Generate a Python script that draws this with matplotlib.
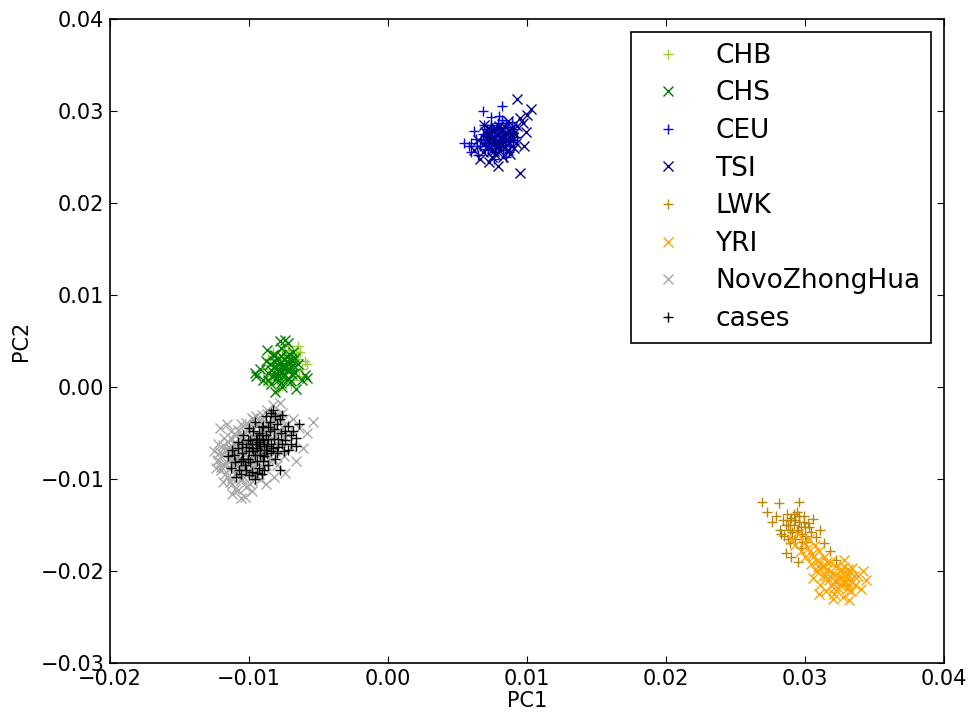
import matplotlib
matplotlib.use("Agg")
import matplotlib.pyplot as plt

# ---- data ----
chb_x = [-0.0085, -0.0082, -0.0080, -0.0078, -0.0077, -0.0075, -0.0074, -0.0073, -0.0071, -0.0070,
         -0.0069, -0.0067, -0.0066, -0.0064, -0.0063, -0.0060, -0.0058, -0.0088, -0.0086, -0.0079,
         -0.0072, -0.0076, -0.0068, -0.0083, -0.0090, -0.0065,
         -0.0081, -0.0078, -0.0074, -0.0071, -0.0068, -0.0065, -0.0062, -0.0076, -0.0070, -0.0084]
chb_y = [0.0015, 0.0025, 0.0008, 0.0030, 0.0018, 0.0035, 0.0010, 0.0024, 0.0040, 0.0015,
         0.0029, 0.0020, 0.0037, 0.0012, 0.0038, 0.0028, 0.0025, 0.0005, 0.0030, -0.0003,
         0.0045, 0.0005, 0.0008, 0.0038, 0.0020, 0.0045,
         0.0020, 0.0012, 0.0028, 0.0022, 0.0033, 0.0030, 0.0020, 0.0040, 0.0002, 0.0010]

chs_x = [-0.0095, -0.0092, -0.0090, -0.0088, -0.0086, -0.0084, -0.0083, -0.0082, -0.0080, -0.0079,
         -0.0078, -0.0077, -0.0076, -0.0075, -0.0074, -0.0073, -0.0072, -0.0071, -0.0070, -0.0069,
         -0.0068, -0.0067, -0.0066, -0.0065, -0.0062, -0.0060, -0.0058, -0.0081, -0.0087, -0.0078,
         -0.0070, -0.0076, -0.0079, -0.0073, -0.0085, -0.0096, -0.0074,
         -0.0084, -0.0082, -0.0080, -0.0079, -0.0078, -0.0077, -0.0076, -0.0075, -0.0074, -0.0073,
         -0.0072, -0.0071, -0.0070, -0.0069, -0.0068, -0.0081, -0.0086, -0.0067, -0.0077, -0.0083]
chs_y = [0.0012, 0.0020, 0.0008, 0.0028, 0.0015, 0.0003, 0.0035, 0.0022, 0.0010, 0.0030,
         0.0017, 0.0042, 0.0000, 0.0025, 0.0013, 0.0033, 0.0048, 0.0020, 0.0007, 0.0028,
         0.0038, 0.0015, -0.0002, 0.0025, 0.0008, 0.0013, 0.0010, -0.0005, 0.0040, 0.0050,
         0.0030, 0.0022, 0.0008, 0.0018, 0.0025, 0.0015, 0.0051,
         0.0018, 0.0028, 0.0020, 0.0013, 0.0026, 0.0034, 0.0016, 0.0030, 0.0022, 0.0008,
         0.0027, 0.0036, 0.0022, 0.0014, 0.0024, 0.0035, 0.0008, 0.0032, 0.0004, 0.0012]

ceu_x = [0.0060, 0.0063, 0.0066, 0.0068, 0.0070, 0.0071, 0.0072, 0.0073, 0.0074, 0.0075,
         0.0076, 0.0077, 0.0078, 0.0079, 0.0080, 0.0081, 0.0082, 0.0083, 0.0084, 0.0085,
         0.0086, 0.0087, 0.0088, 0.0090, 0.0091, 0.0058, 0.0065, 0.0069, 0.0074, 0.0080,
         0.0085, 0.0093, 0.0062, 0.0076, 0.0089, 0.0072, 0.0079, 0.0083, 0.0070, 0.0087,
         0.0055, 0.0082, 0.0068, 0.0060,
         0.0071, 0.0074, 0.0076, 0.0078, 0.0080, 0.0081, 0.0082, 0.0084, 0.0086, 0.0077,
         0.0073, 0.0079, 0.0083, 0.0088, 0.0075, 0.0067, 0.0064, 0.0090, 0.0085, 0.0078]
ceu_y = [0.0265, 0.0270, 0.0262, 0.0275, 0.0268, 0.0280, 0.0258, 0.0272, 0.0285, 0.0265,
         0.0278, 0.0270, 0.0260, 0.0283, 0.0273, 0.0266, 0.0290, 0.0277, 0.0262, 0.0271,
         0.0283, 0.0255, 0.0275, 0.0268, 0.0280, 0.0262, 0.0252, 0.0285, 0.0293, 0.0295,
         0.0250, 0.0272, 0.0278, 0.0248, 0.0288, 0.0265, 0.0276, 0.0268, 0.0259, 0.0266,
         0.0265, 0.0305, 0.0300, 0.0255,
         0.0274, 0.0278, 0.0268, 0.0274, 0.0266, 0.0282, 0.0274, 0.0278, 0.0270, 0.0262,
         0.0268, 0.0287, 0.0258, 0.0262, 0.0282, 0.0270, 0.0262, 0.0276, 0.0287, 0.0280]

tsi_x = [0.0062, 0.0065, 0.0068, 0.0070, 0.0072, 0.0074, 0.0075, 0.0077, 0.0078, 0.0079,
         0.0080, 0.0081, 0.0082, 0.0084, 0.0085, 0.0086, 0.0087, 0.0088, 0.0090, 0.0091,
         0.0093, 0.0095, 0.0097, 0.0099, 0.0098, 0.0095, 0.0093, 0.0103, 0.0100, 0.0066,
         0.0073, 0.0079, 0.0069, 0.0083, 0.0076, 0.0089, 0.0092,
         0.0071, 0.0073, 0.0075, 0.0077, 0.0079, 0.0080, 0.0082, 0.0083, 0.0085, 0.0087,
         0.0076, 0.0081, 0.0074, 0.0084, 0.0089, 0.0078, 0.0069, 0.0086, 0.0091, 0.0072]
tsi_y = [0.0258, 0.0268, 0.0255, 0.0277, 0.0262, 0.0270, 0.0250, 0.0282, 0.0266, 0.0274,
         0.0258, 0.0279, 0.0269, 0.0261, 0.0276, 0.0289, 0.0266, 0.0253, 0.0272, 0.0260,
         0.0284, 0.0292, 0.0287, 0.0277, 0.0262, 0.0233, 0.0313, 0.0302, 0.0296, 0.0248,
         0.0245, 0.0240, 0.0285, 0.0250, 0.0256, 0.0281, 0.0265,
         0.0270, 0.0276, 0.0264, 0.0271, 0.0262, 0.0284, 0.0263, 0.0274, 0.0268, 0.0279,
         0.0278, 0.0270, 0.0257, 0.0283, 0.0268, 0.0252, 0.0264, 0.0258, 0.0276, 0.0282]

lwk_x = [0.0269, 0.0281, 0.0273, 0.0296, 0.0276, 0.0279, 0.0282, 0.0284, 0.0285, 0.0287,
         0.0288, 0.0289, 0.0290, 0.0291, 0.0292, 0.0293, 0.0294, 0.0295, 0.0296, 0.0297,
         0.0298, 0.0299, 0.0300, 0.0301, 0.0302, 0.0304, 0.0306, 0.0308, 0.0311, 0.0314,
         0.0318, 0.0322, 0.0286, 0.0290, 0.0295, 0.0293, 0.0297, 0.0289, 0.0300, 0.0283,
         0.0286, 0.0289, 0.0291, 0.0294, 0.0296, 0.0298, 0.0292, 0.0303, 0.0288, 0.0299]
lwk_y = [-0.0125, -0.0126, -0.0136, -0.0125, -0.0147, -0.0140, -0.0155, -0.0145, -0.0162, -0.0138,
         -0.0150, -0.0170, -0.0142, -0.0158, -0.0150, -0.0165, -0.0136, -0.0155, -0.0147, -0.0175,
         -0.0160, -0.0140, -0.0152, -0.0168, -0.0148, -0.0158, -0.0143, -0.0163, -0.0155, -0.0170,
         -0.0178, -0.0188, -0.0180, -0.0185, -0.0190, -0.0145, -0.0152, -0.0155, -0.0162, -0.0160,
         -0.0150, -0.0145, -0.0163, -0.0158, -0.0140, -0.0168, -0.0138, -0.0152, -0.0165, -0.0147]

yri_x = [0.0290, 0.0293, 0.0295, 0.0297, 0.0299, 0.0300, 0.0302, 0.0303, 0.0304, 0.0305,
         0.0307, 0.0308, 0.0309, 0.0310, 0.0311, 0.0312, 0.0313, 0.0314, 0.0315, 0.0316,
         0.0317, 0.0318, 0.0319, 0.0320, 0.0321, 0.0322, 0.0323, 0.0324, 0.0325, 0.0326,
         0.0327, 0.0328, 0.0329, 0.0330, 0.0331, 0.0332, 0.0333, 0.0334, 0.0336, 0.0338,
         0.0340, 0.0342, 0.0344, 0.0310, 0.0306, 0.0328, 0.0320, 0.0315, 0.0325, 0.0330,
         0.0318, 0.0322, 0.0326, 0.0329, 0.0332, 0.0335, 0.0313, 0.0316, 0.0321, 0.0324,
         0.0327, 0.0331, 0.0306, 0.0309, 0.0333]
yri_y = [-0.0165, -0.0172, -0.0160, -0.0178, -0.0168, -0.0185, -0.0175, -0.0165, -0.0192, -0.0182,
         -0.0172, -0.0200, -0.0188, -0.0178, -0.0215, -0.0195, -0.0205, -0.0185, -0.0222, -0.0198,
         -0.0210, -0.0190, -0.0215, -0.0202, -0.0225, -0.0195, -0.0210, -0.0218, -0.0200, -0.0206,
         -0.0228, -0.0196, -0.0213, -0.0220, -0.0203, -0.0232, -0.0210, -0.0197, -0.0215, -0.0205,
         -0.0220, -0.0200, -0.0210, -0.0225, -0.0208, -0.0188, -0.0230, -0.0205, -0.0215, -0.0208,
         -0.0205, -0.0212, -0.0198, -0.0204, -0.0215, -0.0205, -0.0196, -0.0190, -0.0218, -0.0207,
         -0.0213, -0.0198, -0.0185, -0.0195, -0.0222]

novo_x = [-0.0125, -0.0123, -0.0122, -0.0120, -0.0120, -0.0118, -0.0118, -0.0117, -0.0116, -0.0115,
          -0.0115, -0.0114, -0.0113, -0.0112, -0.0112, -0.0111, -0.0110, -0.0110, -0.0109, -0.0108,
          -0.0108, -0.0107, -0.0106, -0.0106, -0.0105, -0.0104, -0.0104, -0.0103, -0.0102, -0.0102,
          -0.0101, -0.0100, -0.0100, -0.0099, -0.0098, -0.0097, -0.0097, -0.0096, -0.0095, -0.0094,
          -0.0094, -0.0093, -0.0092, -0.0091, -0.0090, -0.0090, -0.0089, -0.0088, -0.0087, -0.0086,
          -0.0085, -0.0084, -0.0083, -0.0082, -0.0081, -0.0080, -0.0079, -0.0078, -0.0077, -0.0076,
          -0.0075, -0.0074, -0.0073, -0.0072, -0.0070, -0.0068, -0.0066, -0.0064, -0.0061, -0.0058,
          -0.0054, -0.0106, -0.0112, -0.0119, -0.0098, -0.0124, -0.0121, -0.0088, -0.0082, -0.0116,
          -0.0108, -0.0104, -0.0100, -0.0096, -0.0112, -0.0098, -0.0106, -0.0094, -0.0114, -0.0102,
          -0.0095, -0.0087, -0.0080, -0.0102, -0.0093, -0.0086, -0.0078, -0.0108, -0.0099, -0.0091,
          -0.0083, -0.0076, -0.0113, -0.0105, -0.0097, -0.0089, -0.0081, -0.0074, -0.0119, -0.0111,
          -0.0103, -0.0095, -0.0087, -0.0079, -0.0121, -0.0113, -0.0105, -0.0097, -0.0089, -0.0081,
          -0.0122, -0.0114, -0.0106, -0.0098, -0.0090, -0.0083, -0.0120, -0.0112, -0.0104, -0.0096,
          -0.0088, -0.0117, -0.0109, -0.0101, -0.0093, -0.0114, -0.0106, -0.0098, -0.0110, -0.0102,
          -0.0098, -0.0091, -0.0083, -0.0111, -0.0103, -0.0095, -0.0087, -0.0079, -0.0116, -0.0107,
          -0.0099, -0.0091, -0.0084, -0.0117, -0.0109, -0.0101, -0.0093, -0.0112, -0.0104, -0.0096]
novo_y = [-0.0070, -0.0080, -0.0062, -0.0090, -0.0075, -0.0055, -0.0085, -0.0068, -0.0098, -0.0078,
          -0.0060, -0.0088, -0.0048, -0.0072, -0.0105, -0.0082, -0.0063, -0.0095, -0.0052, -0.0075,
          -0.0112, -0.0088, -0.0040, -0.0066, -0.0100, -0.0080, -0.0057, -0.0120, -0.0070, -0.0092,
          -0.0045, -0.0062, -0.0085, -0.0105, -0.0075, -0.0035, -0.0053, -0.0095, -0.0068, -0.0082,
          -0.0042, -0.0058, -0.0100, -0.0030, -0.0072, -0.0048, -0.0088, -0.0062, -0.0025, -0.0078,
          -0.0040, -0.0055, -0.0020, -0.0068, -0.0032, -0.0085, -0.0048, -0.0017, -0.0060, -0.0028,
          -0.0075, -0.0093, -0.0040, -0.0052, -0.0065, -0.0035, -0.0080, -0.0045, -0.0066, -0.0050,
          -0.0038, -0.0121, -0.0116, -0.0103, -0.0113, -0.0088, -0.0045, -0.0105, -0.0098, -0.0040,
          -0.0070, -0.0065, -0.0078, -0.0060, -0.0078, -0.0088, -0.0083, -0.0072, -0.0066, -0.0058,
          -0.0031, -0.0029, -0.0031, -0.0039, -0.0037, -0.0038, -0.0036, -0.0047, -0.0045, -0.0046,
          -0.0047, -0.0044, -0.0055, -0.0053, -0.0054, -0.0055, -0.0053, -0.0054, -0.0063, -0.0061,
          -0.0062, -0.0063, -0.0061, -0.0062, -0.0071, -0.0069, -0.0070, -0.0071, -0.0069, -0.0070,
          -0.0079, -0.0077, -0.0078, -0.0079, -0.0077, -0.0078, -0.0087, -0.0085, -0.0086, -0.0087,
          -0.0085, -0.0095, -0.0093, -0.0094, -0.0095, -0.0103, -0.0101, -0.0102, -0.0111, -0.0109,
          -0.0034, -0.0035, -0.0033, -0.0051, -0.0049, -0.0050, -0.0051, -0.0049, -0.0067, -0.0065,
          -0.0066, -0.0067, -0.0065, -0.0083, -0.0081, -0.0082, -0.0083, -0.0099, -0.0097, -0.0098]

cases_x = [-0.0115, -0.0112, -0.0110, -0.0108, -0.0107, -0.0105, -0.0104, -0.0103, -0.0102, -0.0101,
           -0.0100, -0.0099, -0.0098, -0.0097, -0.0096, -0.0095, -0.0094, -0.0093, -0.0092, -0.0091,
           -0.0090, -0.0090, -0.0089, -0.0088, -0.0087, -0.0086, -0.0085, -0.0084, -0.0083, -0.0082,
           -0.0081, -0.0080, -0.0079, -0.0078, -0.0077, -0.0076, -0.0075, -0.0074, -0.0072, -0.0070,
           -0.0068, -0.0066, -0.0064, -0.0109, -0.0096, -0.0093, -0.0098, -0.0088, -0.0092, -0.0084,
           -0.0100, -0.0086, -0.0094, -0.0113, -0.0106,
           -0.0108, -0.0104, -0.0101, -0.0099, -0.0097, -0.0096, -0.0094, -0.0093, -0.0091, -0.0090,
           -0.0089, -0.0087, -0.0086, -0.0085, -0.0083, -0.0082, -0.0080, -0.0079, -0.0078, -0.0076,
           -0.0074, -0.0072, -0.0070, -0.0098, -0.0095, -0.0092, -0.0088, -0.0102, -0.0100, -0.0106,
           -0.0111, -0.0084, -0.0081, -0.0091, -0.0066, -0.0105, -0.0089, -0.0094]
cases_y = [-0.0075, -0.0068, -0.0082, -0.0060, -0.0090, -0.0072, -0.0052, -0.0085, -0.0065, -0.0078,
           -0.0045, -0.0058, -0.0092, -0.0070, -0.0038, -0.0062, -0.0080, -0.0050, -0.0068, -0.0095,
           -0.0042, -0.0058, -0.0075, -0.0032, -0.0064, -0.0085, -0.0048, -0.0070, -0.0025, -0.0056,
           -0.0078, -0.0040, -0.0065, -0.0090, -0.0050, -0.0030, -0.0070, -0.0058, -0.0042, -0.0062,
           -0.0048, -0.0055, -0.0040, -0.0098, -0.0100, -0.0060, -0.0066, -0.0052, -0.0074, -0.0062,
           -0.0070, -0.0044, -0.0056, -0.0088, -0.0095,
           -0.0066, -0.0078, -0.0058, -0.0082, -0.0048, -0.0074, -0.0066, -0.0088, -0.0052, -0.0080,
           -0.0062, -0.0072, -0.0056, -0.0038, -0.0066, -0.0046, -0.0072, -0.0056, -0.0035, -0.0062,
           -0.0048, -0.0068, -0.0052, -0.0062, -0.0056, -0.0064, -0.0068, -0.0090, -0.0096, -0.0080,
           -0.0074, -0.0028, -0.0032, -0.0044, -0.0064, -0.0062, -0.0090, -0.0094]

groups = ["CHB", "CHS", "CEU", "TSI", "LWK", "YRI", "NovoZhongHua", "cases"]
xs = [chb_x, chs_x, ceu_x, tsi_x, lwk_x, yri_x, novo_x, cases_x]
ys = [chb_y, chs_y, ceu_y, tsi_y, lwk_y, yri_y, novo_y, cases_y]
markers = ["+", "x", "+", "x", "+", "x", "x", "+"]
colors = ["yellowgreen", "green", "blue", "darkblue", "darkgoldenrod", "orange", "darkgray", "black"]

x_ticks = [-0.02, -0.01, 0.00, 0.01, 0.02, 0.03, 0.04]
y_ticks = [-0.03, -0.02, -0.01, 0.00, 0.01, 0.02, 0.03, 0.04]

fig = plt.figure(figsize=(9.72, 7.19), dpi=100)
ax = fig.add_axes([110 / 972, 1 - 663 / 719, (944 - 110) / 972, (663 - 19) / 719])

for name, x, y, m, c in zip(groups, xs, ys, markers, colors):
    ax.plot(x, y, linestyle="none", marker=m, color=c, markersize=7.5,
            markeredgewidth=1.0, label=name)

ax.set_xlim(-0.02, 0.04)
ax.set_ylim(-0.03, 0.04)
ax.set_xticks(x_ticks)
ax.set_yticks(y_ticks)
ax.set_xticklabels([("%.2f" % v).replace("-", "\u2212") for v in x_ticks])
ax.set_yticklabels([("%.2f" % v).replace("-", "\u2212") for v in y_ticks])
ax.tick_params(direction="in", top=True, right=True, length=5, width=0.8, labelsize=15, pad=4)
ax.set_xlabel("PC1", fontsize=15, labelpad=2)
ax.set_ylabel("PC2", fontsize=15, labelpad=7)
for s in ax.spines.values():
    s.set_linewidth(1.2)

leg = ax.legend(loc="upper right", numpoints=1, fontsize=19, labelspacing=0.44,
                fancybox=False, framealpha=1, edgecolor="black")
leg.get_frame().set_linewidth(1.2)

fig.savefig("out.png", dpi=100)
